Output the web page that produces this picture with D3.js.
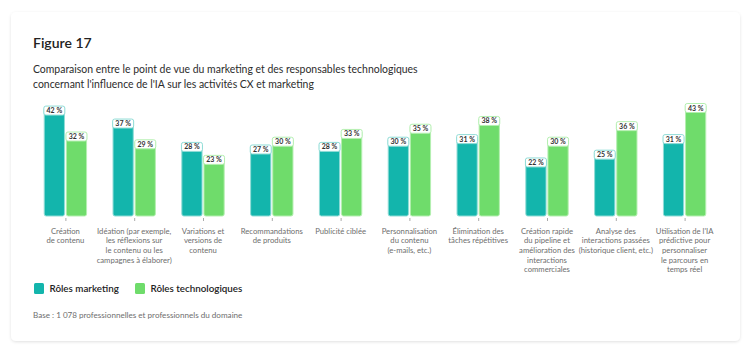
<!DOCTYPE html>
<html>
<head>
<meta charset="utf-8">
<script src="https://cdn.jsdelivr.net/npm/d3@7"></script>
<style>
  html, body { margin: 0; padding: 0; background: #fff; }
  body { width: 750px; height: 353px; overflow: hidden; font-family: Lato, "Open Sans", sans-serif; }
</style>
</head>
<body>
<div id="chart"></div>
<script>
const categories = [
  ["Création", "de contenu"],
  ["Idéation (par exemple,", "les réflexions sur", "le contenu ou les", "campagnes à élaborer)"],
  ["Variations et", "versions de", "contenu"],
  ["Recommandations", "de produits"],
  ["Publicité ciblée"],
  ["Personnalisation", "du contenu", "(e-mails, etc.)"],
  ["Élimination des", "tâches répétitives"],
  ["Création rapide", "du pipeline et", "amélioration des", "interactions", "commerciales"],
  ["Analyse des", "interactions passées", "(historique client, etc.)"],
  ["Utilisation de l'IA", "prédictive pour", "personnaliser", "le parcours en", "temps réel"]
];
const marketing = [42, 37, 28, 27, 28, 30, 31, 22, 25, 31];
const tech = [32, 29, 23, 30, 33, 35, 38, 30, 36, 43];
const seriesNames = ["Rôles marketing", "Rôles technologiques"];

const colors = ["#13b5ac", "#6fdc6b"];
const strokes = ["#8fdcd6", "#b4efb0"];

const W = 750, H = 353;
const svg = d3.select("#chart").append("svg")
  .attr("width", W).attr("height", H);

// card
svg.append("defs").append("filter").attr("id", "sh")
  .attr("x", "-5%").attr("y", "-5%").attr("width", "110%").attr("height", "110%")
  .append("feDropShadow").attr("dx", 0).attr("dy", 1).attr("stdDeviation", 1.5)
  .attr("flood-color", "#000").attr("flood-opacity", 0.12);
svg.append("rect").attr("x", 11).attr("y", 12).attr("width", 729).attr("height", 329)
  .attr("rx", 5).attr("fill", "#fff").attr("filter", "url(#sh)");

svg.append("text").attr("x", 33).attr("y", 48)
  .attr("font-size", 14).attr("font-weight", 600).attr("fill", "#222")
  .text("Figure 17");
svg.append("text").attr("x", 33).attr("y", 73)
  .attr("font-size", 10.45).attr("fill", "#2c2c2c")
  .text("Comparaison entre le point de vue du marketing et des responsables technologiques");
svg.append("text").attr("x", 33).attr("y", 88)
  .attr("font-size", 10.45).attr("fill", "#2c2c2c")
  .text("concernant l'influence de l'IA sur les activités CX et marketing");

const baseline = 216;
const x0 = d3.scaleBand().domain(d3.range(categories.length))
  .range([31, 719]).paddingInner(0.37).paddingOuter(0.185);
const x1 = d3.scaleBand().domain([0, 1]).range([0, x0.bandwidth()]).paddingInner(0.04);
const y = d3.scaleLinear().domain([0, 43]).range([baseline, 104.5]);

const groups = svg.append("g").selectAll("g")
  .data(categories.map((c, i) => ({ i, vals: [marketing[i], tech[i]] })))
  .join("g")
  .attr("transform", d => `translate(${x0(d.i)},0)`);

groups.selectAll("rect.bar")
  .data(d => d.vals.map((v, s) => ({ v, s })))
  .join("rect").attr("class", "bar")
  .attr("x", d => x1(d.s) + 0.5)
  .attr("width", x1.bandwidth() - 1)
  .attr("y", d => y(d.v))
  .attr("height", d => baseline - y(d.v))
  .attr("rx", 2)
  .attr("fill", d => colors[d.s])
  .attr("stroke", d => strokes[d.s])
  .attr("stroke-width", 1);

const lab = groups.selectAll("g.lab")
  .data(d => d.vals.map((v, s) => ({ v, s })))
  .join("g").attr("class", "lab")
  .attr("transform", d => `translate(${x1(d.s) + x1.bandwidth() / 2},${y(d.v) - 1})`);
lab.append("rect")
  .attr("x", -10.5).attr("y", 0).attr("width", 21).attr("height", 9)
  .attr("rx", 2).attr("fill", "#fff")
  .attr("stroke", d => strokes[d.s]).attr("stroke-width", 1);
lab.append("text")
  .attr("text-anchor", "middle").attr("y", 7)
  .attr("font-size", 7).attr("font-weight", 700).attr("fill", "#333")
  .text(d => d.v + " %");

// axis ticks + category labels
const axis = svg.append("g").attr("transform", `translate(0,${baseline})`)
  .call(d3.axisBottom(d3.scalePoint().domain(d3.range(categories.length))
    .range([x0(0) + x0.bandwidth() / 2, x0(categories.length - 1) + x0.bandwidth() / 2]))
    .tickSize(4).tickPadding(0).tickFormat(""));
axis.select(".domain").remove();
axis.selectAll(".tick line").attr("stroke", "#aaa").attr("y1", 2).attr("y2", 5);

const catText = svg.append("g").selectAll("text")
  .data(categories)
  .join("text")
  .attr("text-anchor", "middle")
  .attr("font-size", 7.7).attr("fill", "#6e6e6e")
  .attr("x", (d, i) => x0(i) + x0.bandwidth() / 2)
  .attr("y", 233.5);
catText.selectAll("tspan")
  .data(d => d)
  .join("tspan")
  .attr("x", function () { return this.parentNode.getAttribute("x"); })
  .attr("dy", (d, i) => i === 0 ? 0 : 9.7)
  .text(d => d);

// legend
const leg = svg.append("g").attr("transform", "translate(34,283)");
const legX = [0, 101];
seriesNames.forEach((n, i) => {
  leg.append("rect").attr("x", legX[i]).attr("y", 0).attr("width", 10).attr("height", 11)
    .attr("rx", 1.5).attr("fill", colors[i]);
  leg.append("text").attr("x", legX[i] + 15.5).attr("y", 9)
    .attr("font-size", 9.8).attr("font-weight", 600).attr("fill", "#222")
    .text(n);
});

svg.append("text").attr("x", 33).attr("y", 318)
  .attr("font-size", 8.1).attr("fill", "#6e6e6e")
  .text("Base : 1 078 professionnelles et professionnels du domaine");
</script>
</body>
</html>
